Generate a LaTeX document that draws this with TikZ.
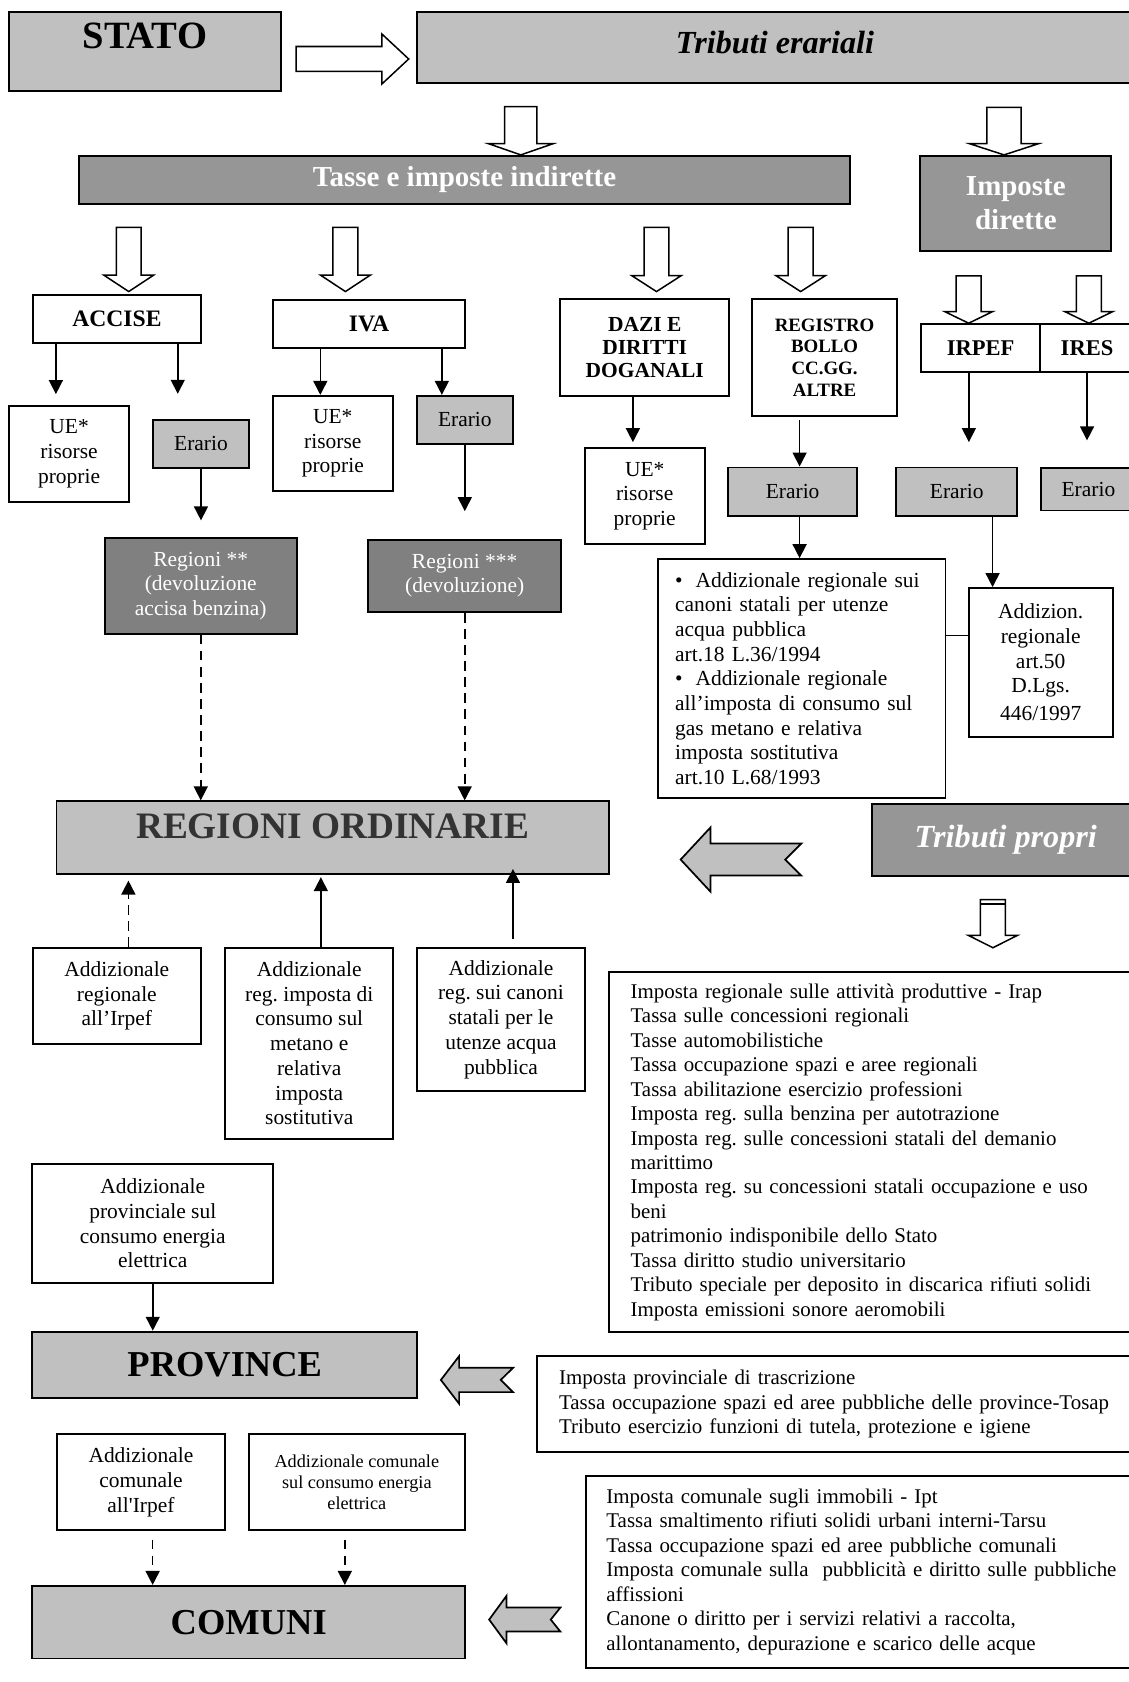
\documentclass[tikz,border=0pt]{standalone}
\usepackage{fontspec}
\setmainfont{Liberation Serif}
\usetikzlibrary{arrows.meta}
\definecolor{BoxGray}{RGB}{192,192,192}
\definecolor{MidGray}{RGB}{150,150,150}
\definecolor{RegGray}{RGB}{128,128,128}
\definecolor{TitleGray}{RGB}{51,51,51}
\newcommand\bodyfont{\fontsize{10}{11.5}\selectfont}
\newcommand\listfont{\fontsize{9.75}{11.4}\selectfont}
\newcommand\smallerfont{\fontsize{8.5}{9.7}\selectfont}
\newcommand\bigbold{\fontsize{17}{20}\selectfont\bfseries}
\newcommand\headbold{\fontsize{15}{18}\selectfont\bfseries\itshape}
\newcommand\midbold{\fontsize{13.5}{15.5}\selectfont\bfseries}
\newcommand\labbold{\fontsize{11}{12}\selectfont\bfseries}
\newcommand\dazifont{\fontsize{10}{10.85}\selectfont\bfseries}
\newcommand\regfont{\fontsize{8.8}{10.1}\selectfont\bfseries}

\begin{document}
\frenchspacing
\begin{tikzpicture}[x=0.5pt,y=-0.5pt,>={Triangle[length=6.5pt,width=6.5pt]},
  box/.style={draw,line width=0.9pt,align=center,inner sep=2pt,font=\bodyfont},
  lbox/.style={box,fill=BoxGray},
  mbox/.style={box,fill=MidGray,text=white},
  rbox/.style={box,fill=RegGray,text=white},
  lst/.style={box,anchor=west,align=left,font=\listfont},
  conn/.style={->,line width=0.75pt},
  dconn/.style={conn,dash pattern=on 4.5pt off 3pt},
  hollow/.style={draw,fill=white,line width=0.7pt},
  garrow/.style={draw,fill=BoxGray,line width=0.8pt}]
\useasboundingbox (0,0) rectangle (1052,1568);

\node[lbox,minimum width=127pt,minimum height=36.75pt,font=\fontsize{18}{20}\selectfont\bfseries,text depth=14pt] (stato) at (135,47.75) {STATO};
\node[lbox,minimum width=333.5pt,minimum height=33.3pt,font=\headbold,text depth=4.9pt] (erariali) at (722.5,44.3) {Tributi erariali};
\node[mbox,minimum width=359pt,minimum height=22.5pt,font=\midbold] (indirette) at (433,167.5) {Tasse e imposte indirette};
\node[mbox,minimum width=89pt,minimum height=44.5pt,font=\midbold] (dirette) at (947,189.5) {Imposte\\dirette};

\node[box,minimum width=78.4pt,minimum height=22.5pt,font=\labbold] (accise) at (109,297.5) {ACCISE};
\node[box,minimum width=89.55pt,minimum height=22.55pt,font=\labbold] (iva) at (344.05,302.05) {IVA};
\node[box,minimum width=78.6pt,minimum height=45pt,font=\dazifont] (dazi) at (601,324) {DAZI E\\DIRITTI\\DOGANALI};
\node[box,minimum width=67.4pt,minimum height=54.3pt,font=\regfont] (registro) at (768.7,333.3) {REGISTRO\\BOLLO\\CC.GG.\\ALTRE};
\node[box,minimum width=55.6pt,minimum height=22.5pt,font=\fontsize{10.5}{12}\selectfont\bfseries] (irpef) at (914.1,324.3) {IRPEF};
\node[box,minimum width=43.65pt,minimum height=22.5pt,font=\fontsize{10.5}{12}\selectfont\bfseries] (ires) at (1013.35,324.3) {IRES};

\node[box,minimum width=56.1pt,minimum height=44.85pt] (ueA) at (64.4,423.15) {UE*\\risorse\\proprie};
\node[lbox,minimum width=44.95pt,minimum height=22.5pt] (erA) at (187.35,413.9) {Erario};
\node[box,minimum width=55.75pt,minimum height=44.5pt] (ueB) at (310.25,413.5) {UE*\\risorse\\proprie};
\node[lbox,minimum width=44.9pt,minimum height=22.35pt] (erB) at (433.3,391.35) {Erario};
\node[box,minimum width=55.9pt,minimum height=44.75pt] (ueC) at (601,462.45) {UE*\\risorse\\proprie};
\node[lbox,minimum width=59.9pt,minimum height=22.5pt] (erR) at (738.9,458.3) {Erario};
\node[lbox,minimum width=56.4pt,minimum height=22.5pt] (erI) at (891.9,458.3) {Erario};
\node[lbox,minimum width=44.35pt,minimum height=19.75pt] (erS) at (1014.65,456.15) {Erario};

\node[rbox,minimum width=89.65pt,minimum height=44.6pt] (regA) at (187.15,546.2) {Regioni **\\(devoluzione\\accisa benzina)};
\node[rbox,minimum width=89.8pt,minimum height=33.75pt] (regB) at (433.2,536.75) {Regioni ***\\(devoluzione)};
\node[box,anchor=west,align=left,minimum height=111.35pt,text width=118pt,inner xsep=8pt] (canoni) at (612.5,632.55)
  {\textbullet\hspace{6pt}Addizionale regionale sui\\canoni statali per utenze\\acqua pubblica\\art.18 L.36/1994\\
   \textbullet\hspace{6pt}Addizionale regionale\\all'imposta di consumo sul\\gas metano e relativa\\imposta sostitutiva\\art.10 L.68/1993};
\node[box,minimum width=67.25pt,minimum height=69.4pt] (addirpef) at (970.15,617.6) {Addizion.\\regionale\\art.50\\D.Lgs.\\[1.5pt]446/1997};

\node[lbox,minimum width=257.35pt,minimum height=33.7pt,font=\fontsize{17.4}{20}\selectfont\bfseries,text=TitleGray,text depth=10.9pt] (ordinarie) at (310.05,780.7) {REGIONI ORDINARIE};
\node[mbox,minimum width=124.4pt,minimum height=33.5pt,font=\headbold] (propri) at (937.6,782.9) {Tributi propri};

\node[box,minimum width=78.3pt,minimum height=44.75pt] (addR1) at (108.9,928.35) {Addizionale\\regionale\\all'Irpef};
\node[box,minimum width=78.3pt,minimum height=89pt] (addR2) at (288.3,972.6) {Addizionale\\reg. imposta di\\consumo sul\\metano e\\relativa\\imposta\\sostitutiva};
\node[box,minimum width=78.3pt,minimum height=66.8pt] (addR3) at (467,950.4) {Addizionale\\reg. sui canoni\\statali per le\\utenze acqua\\pubblica};
\node[lst,minimum height=167.9pt,text width=240pt,inner xsep=10.1pt] (elencoR) at (566.8,1074.1)
  {Imposta regionale sulle attività produttive - Irap\\Tassa sulle concessioni regionali\\Tasse automobilistiche\\
   Tassa occupazione spazi e aree regionali\\Tassa abilitazione esercizio professioni\\
   Imposta reg. sulla benzina per autotrazione\\Imposta reg. sulle concessioni statali del demanio\\marittimo\\
   Imposta reg. su concessioni statali occupazione e uso\\beni\\patrimonio indisponibile dello Stato\\
   Tassa diritto studio universitario\\Tributo speciale per deposito in discarica rifiuti solidi\\
   Imposta emissioni sonore aeromobili};

\node[box,minimum width=112.3pt,minimum height=55.65pt] (addP) at (142.4,1140.55) {Addizionale\\provinciale sul\\consumo energia\\elettrica};
\node[lbox,minimum width=179.4pt,minimum height=30.8pt,font=\bigbold] (province) at (209.5,1272.2) {PROVINCE};
\node[lst,minimum height=44.75pt,text width=275pt,inner xsep=10.1pt] (elencoP) at (500.1,1308.85)
  {Imposta provinciale di trascrizione\\Tassa occupazione spazi ed aree pubbliche delle province-Tosap\\
   Tributo esercizio funzioni di tutela, protezione e igiene};

\node[box,minimum width=78.6pt,minimum height=44.7pt] (addC1) at (131.4,1381.8) {Addizionale\\comunale\\all\textquotesingle Irpef};
\node[box,minimum width=100.95pt,minimum height=44.7pt,font=\smallerfont] (addC2) at (332.65,1381.8) {Addizionale comunale\\sul consumo energia\\elettrica};
\node[lbox,minimum width=201.75pt,minimum height=33.85pt,font=\bigbold] (comuni) at (231.85,1512.25) {COMUNI};
\node[lst,minimum height=89.25pt,text width=250pt,inner xsep=9.65pt] (elencoC) at (545.1,1465.25)
  {Imposta comunale sugli immobili - Ipt\\Tassa smaltimento rifiuti solidi urbani interni-Tarsu\\
   Tassa occupazione spazi ed aree pubbliche comunali\\Imposta comunale sulla\ \ pubblicità e diritto sulle pubbliche\\
   affissioni\\Canone o diritto per i servizi relativi a raccolta,\\allontanamento, depurazione e scarico delle acque};

\draw[hollow] (276,43.35) -- (356,43.35) -- (356,31.7) -- (381,55) -- (356,78.3) -- (356,66.65) -- (276,66.65) -- cycle;
\foreach \cx/\ya/\yb/\yc/\bw/\hw in {485.5/99.5/134/144.4/15/30, 936/100/134/144.4/16/32,
    120/212/256.5/271.8/11.6/23.2, 322/212/256.5/271.8/11.6/23.2, 612/212/257/271.8/11.6/23,
    746.4/212/257/271.8/11.6/23, 903/257.2/290.4/301.3/11.6/22.5, 1015/257.2/290.4/301.3/11.6/22.5,
    925.6/838.6/871.9/883.5/11.7/23}
  \draw[hollow] (\cx-\bw,\ya) -- (\cx+\bw,\ya) -- (\cx+\bw,\yb) -- (\cx+\hw,\yb) -- (\cx,\yc)
    -- (\cx-\hw,\yb) -- (\cx-\bw,\yb) -- cycle;
\draw[line width=0.7pt] (913.9,842.5) -- (937.3,842.5);
\foreach \xt/\cy/\xb/\xe/\xn/\bh/\hh in {634.5/801.3/662.3/746.9/732/14.9/29.9,
    411/1286.4/428/478.3/466.8/11.35/22.2, 456/1509.8/472.1/522.4/513.4/11.2/22}
  \draw[garrow] (\xt,\cy) -- (\xb,\cy-\hh) -- (\xb,\cy-\bh) -- (\xe,\cy-\bh) -- (\xn,\cy)
    -- (\xe,\cy+\bh) -- (\xb,\cy+\bh) -- (\xb,\cy+\hh) -- cycle;

\draw[conn,shorten >=5pt] ([xshift=11.2pt]accise.south west) -- ([xshift=11.2pt]accise.south west |- ueA.north);
\draw[conn,shorten >=11.7pt] ([xshift=-11.3pt]accise.south east) -- ([xshift=-11.3pt]accise.south east |- erA.north);
\draw[conn,shorten >=7.8pt] (erA.south) -- (erA.south |- regA.north);
\draw[conn] ([xshift=22.5pt]iva.south west) -- ([xshift=22.5pt]iva.south west |- ueB.north);
\draw[conn] ([xshift=-11.3pt]iva.south east) -- ([xshift=-11.3pt]iva.south east |- erB.north);
\draw[conn,shorten >=12.8pt] (erB.south) -- (erB.south |- regB.north);
\draw[conn,shorten >=2.3pt] ([xshift=-5.5pt]dazi.south) -- ([xshift=-5.5pt]dazi.south |- ueC.north);
\draw[conn,shorten <=1.7pt] ([xshift=22.5pt]registro.south west) -- ([xshift=22.5pt]registro.south west |- erR.north);
\draw[conn] ([xshift=22.5pt]registro.south west |- erR.south) -- ([xshift=22.5pt]registro.south west |- canoni.north);
\draw[conn,shorten >=11.4pt] ([xshift=-5.45pt]irpef.south) -- ([xshift=-5.45pt]irpef.south |- erI.north);
\draw[conn,shorten >=12.5pt] (ires.south) -- (ires.south |- erS.north);
\draw[conn] ([xshift=11.65pt]addirpef.north west |- erI.south) -- ([xshift=11.65pt]addirpef.north west);
\draw[line width=0.75pt] ([yshift=12.5pt]addirpef.west) -- ([yshift=12.5pt]addirpef.west -| canoni.east);
\draw[dconn] (regA.south) -- (regA.south |- ordinarie.north);
\draw[dconn] (regB.south) -- (regB.south |- ordinarie.north);
\draw[dconn,shorten >=2.8pt] ([xshift=5.4pt]addR1.north) -- ([xshift=5.4pt]addR1.north |- ordinarie.south);
\draw[conn,shorten >=1.2pt] ([xshift=5.4pt]addR2.north) -- ([xshift=5.4pt]addR2.north |- ordinarie.south);
\draw[conn,shorten <=3.9pt,shorten >=-2.6pt] ([xshift=5.6pt]addR3.north) -- ([xshift=5.6pt]addR3.north |- ordinarie.south);
\draw[conn] (addP.south) -- (addP.south |- province.north);
\draw[dconn,shorten <=3.9pt] ([xshift=5.45pt]addC1.south) -- ([xshift=5.45pt]addC1.south |- comuni.north);
\draw[dconn,shorten <=3.9pt] ([xshift=-5.6pt]addC2.south) -- ([xshift=-5.6pt]addC2.south |- comuni.north);
\end{tikzpicture}
\end{document}
